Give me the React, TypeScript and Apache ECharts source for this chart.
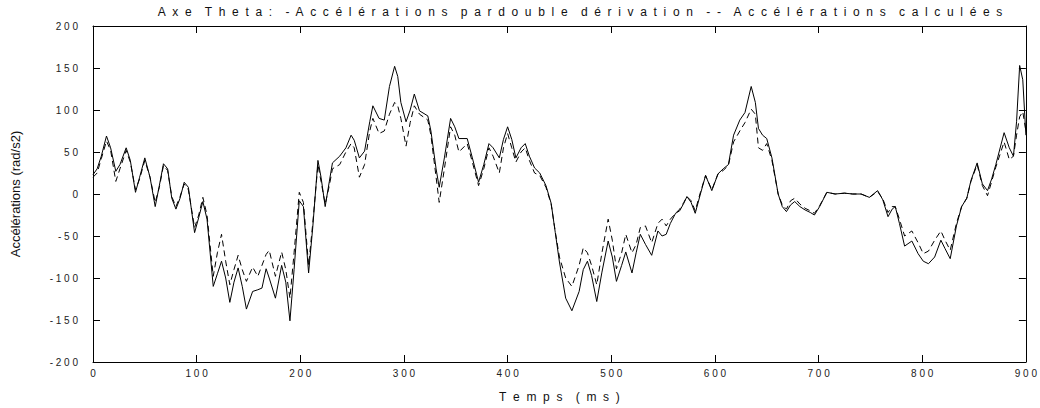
import React, { useEffect, useRef } from "react";
import * as echarts from "echarts";

const TITLE = "Axe Theta: -Accélérations pardouble dérivation -- Accélérations calculées";
const X_NAME = "Temps (ms)";
const Y_NAME = "Accélérations (rad/s2)";

const times = [
  0, 4, 8, 13, 17, 22, 26, 32, 36, 41, 45, 50, 55, 60, 64, 68, 72, 76, 80, 84, 88, 92, 98, 102, 106, 110,
  116, 120, 124, 128, 132, 136, 140, 144, 148, 154, 159, 163, 167, 170, 176, 182, 186, 190, 194, 199, 203,
  208, 212, 217, 220, 224, 228, 231, 238, 244, 249, 252, 257, 262, 267, 270, 276, 281, 286, 291, 294, 297,
  302, 306, 310, 315, 323, 326, 331, 334, 339, 345, 349, 353, 361, 366, 372, 377, 382, 386, 392, 396, 400,
  404, 408, 413, 417, 421, 426, 431, 437, 442, 446, 450, 456, 462, 469, 473, 477, 481, 486, 491, 497, 501,
  505, 510, 514, 520, 524, 528, 533, 539, 545, 549, 553, 557, 562, 566, 570, 573, 577, 581, 586, 591, 597,
  603, 608, 613, 618, 624, 629, 635, 639, 642, 646, 650, 655, 661, 665, 669, 673, 677, 682, 687, 692, 696,
  701, 708, 716, 725, 733, 741, 749, 757, 762, 767, 771, 774, 778, 783, 790, 796, 801, 806, 812, 818, 822,
  827, 833, 838, 843, 847, 853, 858, 863, 867, 871, 879, 884, 888, 891, 894, 897, 900,
];

// Accélérations par double dérivation (solid)
const doubleDerivation = [
  23, 30, 45, 69, 55, 27, 35, 55, 40, 2, 20, 43, 20, -15, 10, 36, 30, -5, -18, -5, 14, 8, -46, -28, -9, -30,
  -110, -95, -80, -100, -129, -105, -88, -110, -137, -116, -114, -112, -89, -100, -124, -85, -105, -151, -90, -8, -15,
  -94, -40, 40, 20, -15, 15, 37, 45, 55, 70, 64, 43, 51, 86, 105, 90, 88, 128, 152, 140, 109,
  86, 100, 119, 99, 93, 75, 30, 8, 43, 90, 80, 66, 66, 43, 14, 35, 60, 55, 43, 65, 80,
  65, 43, 55, 60, 45, 31, 25, 10, -11, -46, -81, -124, -139, -116, -90, -80, -97, -128, -93, -56, -75,
  -104, -85, -69, -94, -70, -48, -60, -73, -44, -50, -48, -35, -23, -20, -11, -3, -10, -23, 0, 22, 4,
  24, 30, 35, 70, 88, 97, 128, 109, 78, 70, 66, 43, 0, -15, -21, -13, -9, -15, -19, -22, -25,
  -15, 2, 0, 1, 0, 0, -4, 4, -7, -27, -18, -15, -35, -62, -56, -71, -80, -83, -75, -55, -65,
  -77, -38, -15, -5, 16, 37, 12, 4, 18, 35, 73, 55, 45, 86, 153, 136, 70,
];

// Accélérations calculées (dashed)
const calculated = [
  20, 25, 42, 63, 52, 15, 30, 52, 38, 5, 18, 40, 20, -10, 8, 34, 28, -3, -15, -3, 12, 5, -40, -25, -4, -25,
  -98, -70, -48, -80, -108, -90, -73, -90, -104, -87, -98, -85, -72, -67, -98, -69, -90, -124, -70, 2, -10,
  -85, -35, 35, 15, -12, 10, 30, 35, 50, 60, 55, 20, 35, 75, 90, 72, 75, 95, 109, 105, 90,
  57, 85, 105, 95, 88, 70, 20, -10, 30, 80, 70, 50, 60, 38, 10, 30, 55, 45, 25, 55, 72,
  55, 38, 50, 55, 40, 25, 22, 8, -12, -45, -75, -100, -110, -85, -64, -70, -85, -108, -70, -30, -55,
  -89, -70, -48, -70, -60, -40, -38, -58, -35, -30, -38, -30, -23, -18, -10, -3, -8, -20, 2, 22, 5,
  24, 28, 34, 62, 75, 85, 101, 95, 55, 52, 60, 40, 0, -13, -18, -8, -5, -12, -17, -20, -23,
  -14, 2, 0, 1, 0, 0, -4, 3, -6, -22, -15, -15, -30, -50, -44, -58, -71, -68, -55, -44, -55,
  -67, -35, -15, -5, 15, 35, 10, -2, 15, 32, 62, 41, 45, 70, 92, 98, 75,
];

const GAP = "\u00a0 ";
const WORD_GAP = "\u00a0 \u00a0 ";
const spread = (s: string) =>
  s
    .split(" ")
    .map((w) => w.split("").join(GAP))
    .join(WORD_GAP);
const spaced = (s: string) => s.split("").join(" ");
const FONT = "'Liberation Sans', Arial, sans-serif";

export default function App() {
  const ref = useRef<HTMLDivElement>(null);
  useEffect(() => {
    document.body.style.margin = "0";
    if (!ref.current) return;
    const chart = echarts.init(ref.current, null, { renderer: "svg" });
    const axisLine = { show: true, onZero: false, lineStyle: { color: "#000", width: 1 } };
    const tick = { show: true, inside: true, length: 7, lineStyle: { color: "#000", width: 1 } };
    chart.setOption({
      animation: false,
      backgroundColor: "#fff",
      textStyle: { fontFamily: FONT },
      grid: { left: 93, right: 12, top: 26, bottom: 39, containLabel: false },
      graphic: [
        {
          type: "text",
          x: 580,
          y: 12,
          style: {
            text: spread(TITLE),
            fontSize: 12,
            fontFamily: FONT,
            fill: "#111",
            textAlign: "center",
            textVerticalAlign: "middle",
          },
        },
      ],
      xAxis: [
        {
          type: "value",
          min: 0,
          max: 900,
          interval: 100,
          position: "bottom",
          axisLine,
          axisTick: tick,
          splitLine: { show: false },
          axisLabel: {
            formatter: (v: number) => spaced(String(v)),
            fontSize: 10,
            color: "#222",
            margin: 6,
            showMinLabel: true,
            showMaxLabel: true,
          },
          name: spread(X_NAME),
          nameLocation: "middle",
          nameGap: 29,
          nameTextStyle: { fontSize: 12, color: "#111" },
        },
        {
          type: "value",
          min: 0,
          max: 900,
          interval: 100,
          position: "top",
          axisLine,
          axisTick: tick,
          splitLine: { show: false },
          axisLabel: { show: false },
        },
      ],
      yAxis: [
        {
          type: "value",
          min: -200,
          max: 200,
          interval: 50,
          position: "left",
          axisLine,
          axisTick: tick,
          splitLine: { show: false },
          axisLabel: {
            formatter: (v: number) => spaced(String(v)),
            fontSize: 10,
            color: "#222",
            margin: 15,
            showMinLabel: true,
            showMaxLabel: true,
          },
          name: Y_NAME,
          nameLocation: "middle",
          nameGap: 71,
          nameTextStyle: { fontSize: 13, color: "#111" },
        },
        {
          type: "value",
          min: -200,
          max: 200,
          interval: 50,
          position: "right",
          axisLine,
          axisTick: tick,
          splitLine: { show: false },
          axisLabel: { show: false },
        },
      ],
      series: [
        {
          name: "Accélérations par double dérivation",
          type: "line",
          xAxisIndex: 0,
          yAxisIndex: 0,
          showSymbol: false,
          symbol: "none",
          lineStyle: { color: "#000", width: 1 },
          data: times.map((t, i) => [t, doubleDerivation[i]]),
        },
        {
          name: "Accélérations calculées",
          type: "line",
          xAxisIndex: 0,
          yAxisIndex: 0,
          showSymbol: false,
          symbol: "none",
          lineStyle: { color: "#000", width: 1, type: [6, 4] },
          data: times.map((t, i) => [t, calculated[i]]),
        },
      ],
    });
    return () => chart.dispose();
  }, []);
  return <div ref={ref} style={{ width: 1040, height: 408 }} />;
}
